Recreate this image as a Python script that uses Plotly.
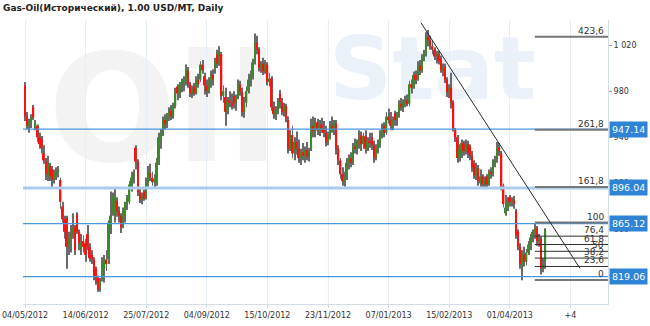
import plotly.graph_objects as go

# ---- data ----
open_ = [985,958,950,953,966,948,950,940,939,926,919,905,915,912,903,909,910,903,880,869,
         870,845,852,856,862,873,858,843,850,848,856,845,838,834,826,818,810,818,826,834,
         834,862,875,872,885,876,872,864,872,882,884,895,905,931,919,892,886,893,888,900,
         909,905,901,900,918,938,943,955,951,958,963,958,967,984,978,985,987,990,998,986,
         978,984,978,990,990,1003,993,985,980,988,994,1000,1012,1004,1012,976,975,962,972,970,
         976,970,975,986,979,962,970,980,990,993,1005,1022,1016,1000,1004,997,1003,988,991,966,
         960,964,978,970,962,967,955,930,942,926,936,930,922,927,924,929,923,930,950,945,
         953,946,951,948,944,936,942,950,947,952,930,920,908,902,906,918,922,918,932,930,
         936,942,934,941,930,937,940,933,922,931,935,943,950,944,958,955,950,961,955,959,
         969,966,970,972,969,986,983,994,990,1002,998,1009,1013,1027,1024,1019,1016,1010,1012,1008,
         998,1001,990,979,983,970,946,940,922,926,935,928,934,932,924,917,907,913,900,906,
         899,906,899,910,908,918,921,931,926,898,874,879,888,884,886,876,858,845,828,838,
         832,840,847,853,858,861,850,852,826,832]
high = [988,962,956,960,968,955,951,944,941,933,922,924,918,915,912,914,915,905,884,872,
        872,858,864,874,864,875,860,856,855,852,864,848,842,836,828,820,818,836,838,842,
        868,893,892,896,888,880,874,879,884,890,902,910,912,933,921,896,892,895,905,915,
        917,910,908,922,944,947,958,960,961,966,968,970,983,986,988,991,993,1003,1001,988,
        985,987,993,995,1006,1007,996,990,992,998,999,1009,1016,1019,1014,985,983,975,980,978,
        980,977,990,989,983,975,984,995,998,1008,1030,1028,1018,1006,1009,1007,1005,996,993,971,
        967,974,981,974,970,969,958,946,950,940,945,938,930,935,932,936,931,956,958,957,
        956,955,957,954,950,945,954,958,955,955,933,922,914,910,922,925,927,935,939,938,
        946,945,944,946,940,944,944,937,934,938,946,952,953,962,965,962,958,963,962,972,
        974,973,976,977,989,990,997,998,1006,1007,1012,1016,1031,1033,1028,1024,1018,1015,1015,1011,
        1004,1004,992,986,996,972,948,942,934,938,937,938,937,934,928,920,918,916,912,908,
        906,908,912,914,921,924,936,935,928,900,890,888,890,888,889,878,860,848,842,845,
        843,850,856,860,865,863,856,854,835,861]
low = [954,947,944,948,955,946,936,930,926,917,903,902,902,896,900,903,905,878,866,852,
       826,838,840,852,838,856,842,838,840,832,842,832,830,816,812,806,806,815,814,824,
       830,856,872,866,871,866,857,861,866,877,882,893,900,912,889,883,882,885,886,897,
       902,898,896,898,916,930,941,947,948,954,955,956,965,972,974,979,980,985,983,975,
       974,976,977,983,988,995,977,975,978,983,985,995,1000,1002,972,970,950,960,966,964,
       965,963,973,976,958,957,966,978,984,990,1003,1012,997,996,994,995,985,984,963,956,
       955,960,965,959,958,953,926,928,922,920,925,918,916,920,918,920,919,928,940,940,
       942,941,944,940,932,933,938,944,942,925,916,904,898,897,903,912,914,916,926,925,
       930,928,930,926,928,931,929,918,920,926,931,939,940,942,952,946,946,950,950,957,
       963,962,966,967,967,978,982,986,989,994,996,1006,1010,1019,1016,1012,1007,1004,1003,996,
       993,987,975,974,965,945,936,918,919,922,924,925,922,920,910,904,903,898,896,896,
       895,896,898,904,906,914,918,924,894,879,872,876,880,880,878,852,842,826,816,828,
       829,838,842,849,852,846,845,821,823,826]
close = [958,950,953,957,957,952,940,934,931,920,908,918,906,903,909,910,912,884,869,858,
         845,852,856,862,842,858,848,850,845,838,845,835,834,820,815,808,815,832,834,830,
         866,872,888,890,876,872,862,876,882,887,899,905,908,919,892,886,889,887,900,910,
         905,901,904,918,940,943,955,951,958,962,958,967,979,978,985,987,990,999,986,978,
         982,978,990,986,1003,998,985,980,988,994,990,1006,1004,1015,976,980,962,972,970,967,
         970,975,986,979,962,970,980,990,993,1005,1022,1016,1000,1004,997,1003,988,991,966,960,
         964,971,970,962,967,956,930,942,926,936,930,922,927,924,929,923,928,950,945,953,
         946,951,948,944,936,942,950,947,953,930,920,908,902,906,918,922,918,932,930,936,
         940,934,941,930,937,935,933,922,931,935,943,948,944,958,955,950,955,955,959,969,
         966,970,972,969,986,983,994,990,1002,998,1009,1013,1027,1024,1019,1016,1010,1012,1006,998,
         1001,990,979,983,970,948,940,922,930,935,928,934,926,924,914,907,913,902,906,899,
         903,899,910,908,918,921,931,928,898,882,879,884,884,886,882,855,845,830,838,832,
         840,847,853,858,861,850,852,826,830,859]

tick_pos = [0, 29, 58, 87, 116, 145, 174, 203, 232, 261]
tick_labels = ["04/05/2012", "14/06/2012", "25/07/2012", "04/09/2012", "15/10/2012",
               "23/11/2012", "07/01/2013", "15/02/2013", "01/04/2013", "+4"]
y_ticks = [820, 860, 900, 940, 980, 1020]

level_values = [947.14, 896.04, 865.12, 819.06]

fib_low, fib_high = 816.2, 866.0
fib_ratios = [0, 23.6, 38.2, 50, 61.8, 76.4, 100, 161.8, 261.8, 423.6]
fib_labels = ["0", "23,6", "38,2", "50", "61,8", "76,4", "100", "161,8", "261,8", "423,6"]
fib_start = 244

trend_x = [189.5, 265.6]
trend_y = [1039.3, 826.3]

# ---- figure ----
x_range = [-0.96, 279.0]
y_range = [795.4, 1041.7]
idx = list(range(len(close)))
GREEN = "#3b8a2a"
RED = "#ff1010"

fig = go.Figure()
fig.add_trace(go.Bar(
    x=idx, base=low, y=[h - l for h, l in zip(high, low)], width=0.45,
    marker=dict(color="#6a6a6a", line=dict(width=0)), showlegend=False, hoverinfo="skip"))
fig.add_trace(go.Bar(
    x=idx, base=[min(o, c) for o, c in zip(open_, close)],
    y=[max(abs(c - o), 1.0) for o, c in zip(open_, close)], width=0.8,
    marker=dict(color=[GREEN if c >= o else RED for o, c in zip(open_, close)], line=dict(width=0)),
    showlegend=False, hoverinfo="skip"))

shapes = []
# watermark
shapes.append(dict(type="rect", xref="paper", yref="paper", x0=0.03, x1=0.45, y0=0.45, y1=1.0,
                   line=dict(width=0), fillcolor="rgba(0,0,0,0)", layer="below",
                   label=dict(text="Oil", textposition="middle center",
                              font=dict(size=150, color="#f3f3f3", family="DejaVu Sans", weight="bold"))))
shapes.append(dict(type="rect", xref="paper", yref="paper", x0=0.52, x1=0.88, y0=0.70, y1=1.0,
                   line=dict(width=0), fillcolor="rgba(0,0,0,0)", layer="below",
                   label=dict(text="Stat", textposition="middle center",
                              font=dict(size=88, color="#eaf1f9", family="DejaVu Sans", weight="bold"))))
# blue levels
for v in level_values:
    thick = abs(v - 896.04) < 0.01
    shapes.append(dict(type="line", xref="paper", yref="y", x0=0, x1=1, y0=v, y1=v,
                       line=dict(color="#a8cbee" if thick else "#4a96dd", width=3 if thick else 1.2),
                       layer="above"))
# fib levels
for r in fib_ratios:
    v = fib_low + (fib_high - fib_low) * r / 100.0
    major = r in (0, 100, 161.8, 261.8, 423.6)
    shapes.append(dict(type="line", xref="x", yref="y", x0=fib_start, x1=x_range[1], y0=v, y1=v,
                       line=dict(color="#777777" if major else "#2e2e2e", width=2 if major else 1),
                       layer="above"))
# trend line
shapes.append(dict(type="line", xref="x", yref="y", x0=trend_x[0], y0=trend_y[0],
                   x1=trend_x[1], y1=trend_y[1], line=dict(color="#2a2a2a", width=1), layer="above"))

annotations = []
for r, t in zip(fib_ratios, fib_labels):
    v = fib_low + (fib_high - fib_low) * r / 100.0
    annotations.append(dict(xref="paper", yref="y", x=1, y=v, xanchor="right", yanchor="bottom",
                            xshift=-2, yshift=-1, text=t, showarrow=False,
                            font=dict(family="DejaVu Sans", size=9, color="#333333")))
for v in level_values:
    annotations.append(dict(xref="paper", yref="y", x=1, y=v, xanchor="left", yanchor="middle",
                            xshift=1, text=f"{v:.2f}", showarrow=False, bgcolor="#2f84d6",
                            borderpad=2, font=dict(family="DejaVu Sans", size=9.5, color="white")))

fig.update_layout(
    width=650, height=326, margin=dict(l=23, r=42, t=20, b=22, autoexpand=False),
    paper_bgcolor="white", plot_bgcolor="white",
    barmode="overlay", separators=". ",
    title=dict(text="Gas-Oil(Исторический), 1.00 USD/MT, Daily", xref="container", yref="container",
               x=3 / 650, xanchor="left", y=1 - 8 / 326, yanchor="middle",
               font=dict(family="DejaVu Sans", size=9, color="#222222", weight="bold")),
    xaxis=dict(range=x_range, tickvals=tick_pos, ticktext=tick_labels, showgrid=True,
               gridcolor="#e6eef7", gridwidth=1, zeroline=False, ticks="outside", ticklen=3,
               tickcolor="#cfd9e3", showline=True, linecolor="#d3dde7", automargin=False,
               tickfont=dict(family="DejaVu Sans", size=8, color="#333333")),
    yaxis=dict(range=y_range, side="right", tickvals=y_ticks, tickformat=",d", showgrid=False,
               zeroline=False, ticks="outside", ticklen=3, tickcolor="#999999", showline=True,
               linecolor="#d3dde7", automargin=False,
               tickfont=dict(family="DejaVu Sans", size=8, color="#333333")),
    shapes=shapes, annotations=annotations,
)

fig.write_html("out.html")
